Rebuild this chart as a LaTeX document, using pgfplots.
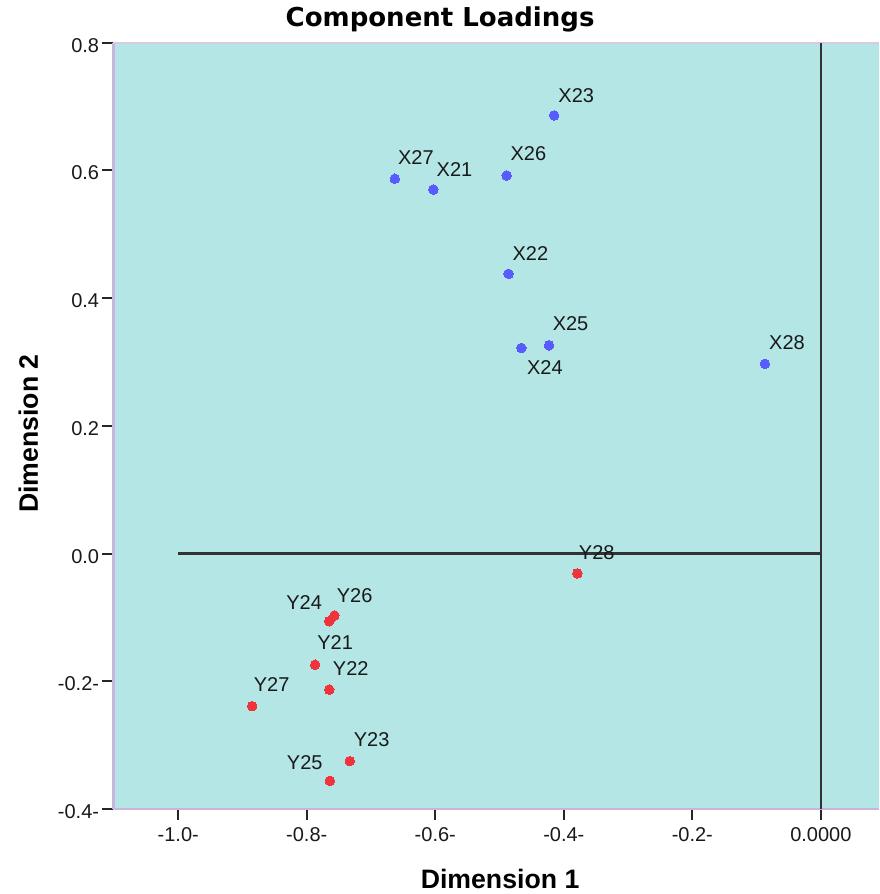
\documentclass[border=0pt]{standalone}
\usepackage{pgfplots}
\pgfplotsset{compat=1.18}
\usepackage{fontspec}
\setmainfont{Liberation Sans}
\newfontfamily\dejavu{DejaVu Sans}
\usetikzlibrary{calc}
\definecolor{bgc}{RGB}{180,230,230}
\definecolor{ptblue}{RGB}{88,92,255}
\definecolor{ptred}{RGB}{240,52,60}
\definecolor{border}{RGB}{200,180,220}

% \pt{colour}{label}{anchor}{dx}{dy}{x}{y}
\newcommand{\pt}[7]{%
  \addplot[only marks, mark=*, mark size=3.6pt, color=#1,
    mark options={draw=#1, fill=#1, line width=0pt},
    nodes near coords={#2},
    nodes near coords style={anchor=#3, xshift=#4pt, yshift=#5pt,
      inner sep=0pt, text=black!90, font=\fontsize{15}{18}\selectfont}]
    coordinates {(#6,#7)};}

\begin{document}
\begin{tikzpicture}
\begin{axis}[name=ax, scale only axis, width=574.3pt, height=574.7pt,
  xmin=-1.101, xmax=0.0907, ymin=-0.4, ymax=0.8,
  clip=false,
  axis background/.style={fill=bgc},
  axis line style={draw=none},
  tick align=outside, xtick pos=bottom, ytick pos=left,
  major tick length=8.25pt,
  tick style={line width=1.5pt, color=black!85},
  xtick={-1,-0.8,-0.6,-0.4,-0.2,0},
  xticklabels={{-1.0-},{-0.8-},{-0.6-},{-0.4-},{-0.2-},{0.0000}},
  ytick={-0.4,-0.2,0,0.2,0.4,0.6,0.8},
  yticklabels={{-0.4-},{-0.2-},{0.0},{0.2},{0.4},{0.6},{0.8}},
  ticklabel style={font=\fontsize{15}{18}\selectfont, text=black!90},
  xticklabel style={anchor=base, yshift=-16.3pt},
  yticklabel style={anchor=east, inner sep=0pt, xshift=-2.25pt, yshift=-2pt},
  every axis title shift=0pt,
  title={Component Loadings},
  title style={at={(0.4267,1.0205)}, anchor=base, font=\dejavu\bfseries\fontsize{19.5}{22}\selectfont},
  xlabel={Dimension 1},
  xlabel style={at={(0.505,-0.1031)}, anchor=base, font=\bfseries\fontsize{20}{24}\selectfont},
  ylabel={Dimension 2},
  ylabel style={at={(-0.0985,0.49)}, anchor=base, font=\bfseries\fontsize{20}{24}\selectfont},
]
\draw[border, line width=2pt] (rel axis cs:0,0) -- (rel axis cs:0,1);
\draw[border!70, line width=1.5pt] (rel axis cs:0,1) -- (rel axis cs:1,1);
\draw[border, line width=1.2pt] (rel axis cs:0,0) -- (rel axis cs:1,0);
\addplot[line width=1.8pt, color=black!80, forget plot] coordinates {(-1,0) (0,0)};
\addplot[line width=1.8pt, color=black!80, forget plot] coordinates {(0,-0.4) (0,0.8)};
% X variables
\pt{ptblue}{X23}{west}{3.2}{14.7}{-0.415}{0.686}
\pt{ptblue}{X27}{west}{2.5}{15.9}{-0.663}{0.587}
\pt{ptblue}{X21}{west}{2.5}{15.2}{-0.603}{0.570}
\pt{ptblue}{X26}{west}{3.0}{16.1}{-0.489}{0.592}
\pt{ptblue}{X22}{west}{3.0}{14.9}{-0.486}{0.438}
\pt{ptblue}{X24}{west}{4.3}{-14.6}{-0.466}{0.322}
\pt{ptblue}{X25}{west}{2.8}{16.6}{-0.423}{0.326}
\pt{ptblue}{X28}{west}{3.2}{16.1}{-0.087}{0.297}
% Y variables
\pt{ptred}{Y28}{west}{1.2}{15.9}{-0.379}{-0.031}
\pt{ptred}{Y26}{west}{1.8}{14.7}{-0.757}{-0.097}
\pt{ptred}{Y24}{east}{-5.5}{14.2}{-0.765}{-0.106}
\pt{ptred}{Y21}{west}{1.7}{16.6}{-0.787}{-0.174}
\pt{ptred}{Y22}{west}{2.8}{15.9}{-0.765}{-0.213}
\pt{ptred}{Y27}{west}{1.3}{16.1}{-0.885}{-0.239}
\pt{ptred}{Y23}{west}{3.0}{16.1}{-0.733}{-0.325}
\pt{ptred}{Y25}{east}{-5.5}{13.7}{-0.764}{-0.356}
\end{axis}
\pgfresetboundingbox
\path ($(ax.south west)+(-85pt,-63.75pt)$) rectangle ($(ax.north east)+(0pt,32pt)$);
\end{tikzpicture}
\end{document}
